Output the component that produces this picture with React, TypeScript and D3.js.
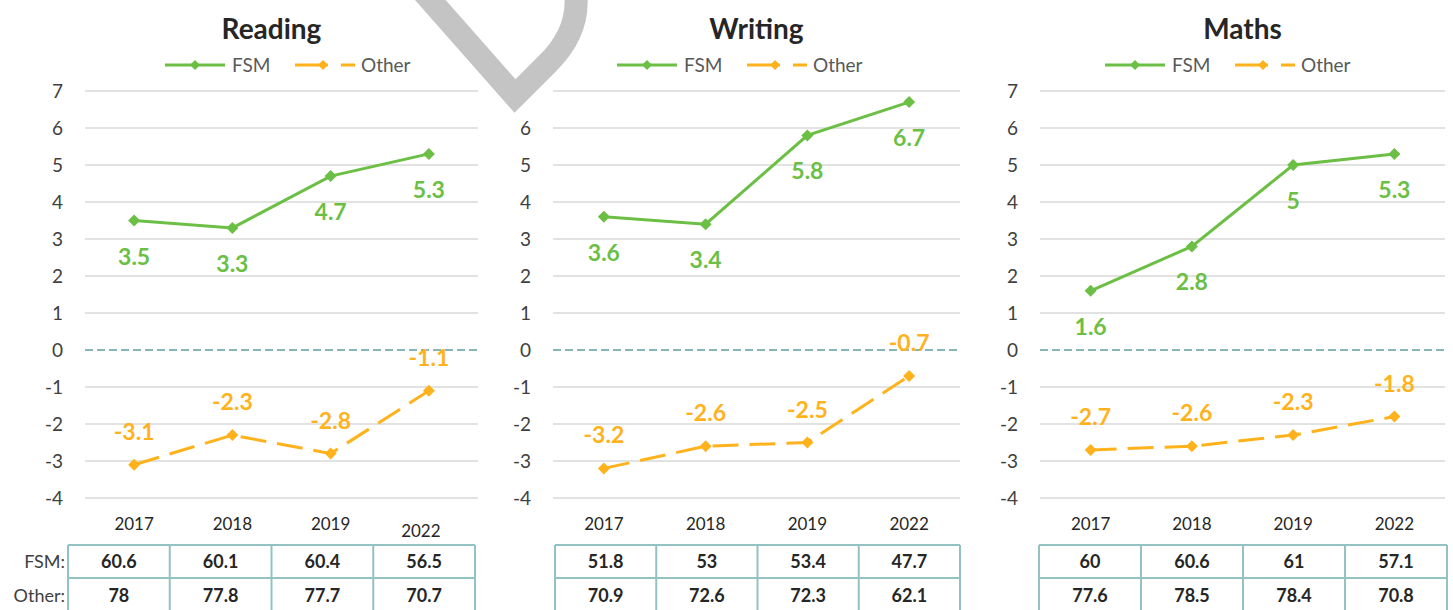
import * as d3 from 'd3';

const years = ['2017', '2018', '2019', '2022'];
const subjects = ['Reading', 'Writing', 'Maths'];
const yTicks = [7, 6, 5, 4, 3, 2, 1, 0, -1, -2, -3, -4];

// gap vs. national average, per subject
const fsmGap = [
  [3.5, 3.3, 4.7, 5.3],
  [3.6, 3.4, 5.8, 6.7],
  [1.6, 2.8, 5, 5.3],
];
const otherGap = [
  [-3.1, -2.3, -2.8, -1.1],
  [-3.2, -2.6, -2.5, -0.7],
  [-2.7, -2.6, -2.3, -1.8],
];
// attainment table under each chart
const fsmTable = [
  ['60.6', '60.1', '60.4', '56.5'],
  ['51.8', '53', '53.4', '47.7'],
  ['60', '60.6', '61', '57.1'],
];
const otherTable = [
  ['78', '77.8', '77.7', '70.7'],
  ['70.9', '72.6', '72.3', '62.1'],
  ['77.6', '78.5', '78.4', '70.8'],
];

const W = 1453;
const H = 610;
const GREEN = '#6cbf45';
const ORANGE = '#ffb21c';
const FONT = 'Lato, "Open Sans", sans-serif';

// plot extents for each panel
const panels = [
  { x0: 85, x1: 478, tx0: 68, tx1: 475, legX: 165, rowLabels: true },
  { x0: 553, x1: 960, tx0: 555, tx1: 960, legX: 617, rowLabels: false },
  { x0: 1040, x1: 1445, tx0: 1039, tx1: 1447, legX: 1105, rowLabels: false },
];

const y = d3.scaleLinear().domain([-4, 7]).range([498, 91]);

function diamond(x: number, yy: number, r = 6) {
  return `M${x},${yy - r}L${x + r},${yy}L${x},${yy + r}L${x - r},${yy}Z`;
}

function Panel({ idx }: { idx: number }) {
  const p = panels[idx];
  const x = d3.scaleBand<string>().domain(years).range([p.x0, p.x1]);
  const cx = (yr: string) => (x(yr) ?? 0) + x.bandwidth() / 2;
  const line = d3.line<number>().x((_, i) => cx(years[i])).y((d) => y(d));
  const tx = d3.scaleBand<string>().domain(years).range([p.tx0, p.tx1]);
  const mid = (p.x0 + p.x1) / 2 + (idx === 0 ? -10 : 0);
  const lx = p.legX;

  return (
    <g>
      <text x={mid} y={39} textAnchor="middle" fontSize={28} fontWeight="bold" fill="#262626">
        {subjects[idx]}
      </text>

      {/* legend */}
      <line x1={lx} x2={lx + 60} y1={65} y2={65} stroke={GREEN} strokeWidth={3} />
      <path d={diamond(lx + 30, 65, 5)} fill={GREEN} />
      <text x={lx + 67} y={72} fontSize={19} fill="#595959">FSM</text>
      <line x1={lx + 130} x2={lx + 190} y1={65} y2={65} stroke={ORANGE} strokeWidth={3} strokeDasharray="33,13,14" />
      <path d={diamond(lx + 158, 65, 5)} fill={ORANGE} />
      <text x={lx + 196} y={72} fontSize={19} fill="#595959">Other</text>

      {/* grid + y axis */}
      {yTicks.map((t) => (
        <g key={t}>
          {t !== 0 && <line x1={p.x0} x2={p.x1} y1={y(t)} y2={y(t)} stroke="#d9d9d9" strokeWidth={1.3} />}
          <text x={p.x0 - 22} y={y(t) + 6.5} textAnchor="end" fontSize={19} fill="#404040">{t}</text>
        </g>
      ))}
      <line x1={p.x0} x2={p.x1} y1={y(0)} y2={y(0)} stroke="#86b6b6" strokeWidth={2.2} strokeDasharray="8,4" />

      {/* x labels */}
      {years.map((yr, i) => (
        <text key={yr} x={cx(yr) - (idx === 0 && i === 3 ? 8 : 0)} y={idx === 0 && i === 3 ? 537 : 530}
          textAnchor="middle" fontSize={17} fill="#262626">{yr}</text>
      ))}

      {/* series */}
      <path d={line(fsmGap[idx]) ?? ''} fill="none" stroke={GREEN} strokeWidth={3} />
      <path d={line(otherGap[idx]) ?? ''} fill="none" stroke={ORANGE} strokeWidth={3} strokeDasharray="26,11" />
      {fsmGap[idx].map((v, i) => (
        <g key={'f' + i}>
          <path d={diamond(cx(years[i]), y(v))} fill={GREEN} />
          <text x={cx(years[i])} y={y(v) + 44} textAnchor="middle" fontSize={23} fontWeight="bold" fill={GREEN}>{v}</text>
        </g>
      ))}
      {otherGap[idx].map((v, i) => (
        <g key={'o' + i}>
          <path d={diamond(cx(years[i]), y(v))} fill={ORANGE} />
          <text x={cx(years[i])} y={y(v) - 25} textAnchor="middle" fontSize={23} fontWeight="bold" fill={ORANGE}>{v}</text>
        </g>
      ))}

      {/* table */}
      <g stroke="#93c2c2" strokeWidth={2} fill="none">
        <line x1={p.tx0} x2={p.tx1} y1={545} y2={545} />
        <line x1={p.tx0} x2={p.tx1} y1={578} y2={578} />
        {[...years.map((yr) => tx(yr) ?? 0), p.tx1].map((xx, i) => (
          <line key={i} x1={xx} x2={xx} y1={545} y2={612} />
        ))}
      </g>
      {years.map((yr, i) => {
        const c = (tx(yr) ?? 0) + tx.bandwidth() / 2;
        return (
          <g key={'t' + yr} fontSize={18} fontWeight="bold" fill="#262626" textAnchor="middle">
            <text x={c} y={568}>{fsmTable[idx][i]}</text>
            <text x={c} y={602}>{otherTable[idx][i]}</text>
          </g>
        );
      })}
      {p.rowLabels && (
        <g fontSize={18} fill="#404040" textAnchor="end">
          <text x={65} y={568}>FSM:</text>
          <text x={65} y={602}>Other:</text>
        </g>
      )}
    </g>
  );
}

export default function App() {
  return (
    <svg width={W} height={H} viewBox={`0 0 ${W} ${H}`}
      style={{ position: 'absolute', left: 0, top: 0, background: '#fff' }} fontFamily={FONT}>
      <rect width={W} height={H} fill="#fff" />
      {subjects.map((_, i) => <Panel key={i} idx={i} />)}
      {/* grey annotation stroke across the top */}
      <path d="M418,-14 L515,96 L547,64 Q582,30 575,-12" fill="none" stroke="#c4c4c4" strokeWidth={23} strokeLinejoin="miter" />
    </svg>
  );
}
